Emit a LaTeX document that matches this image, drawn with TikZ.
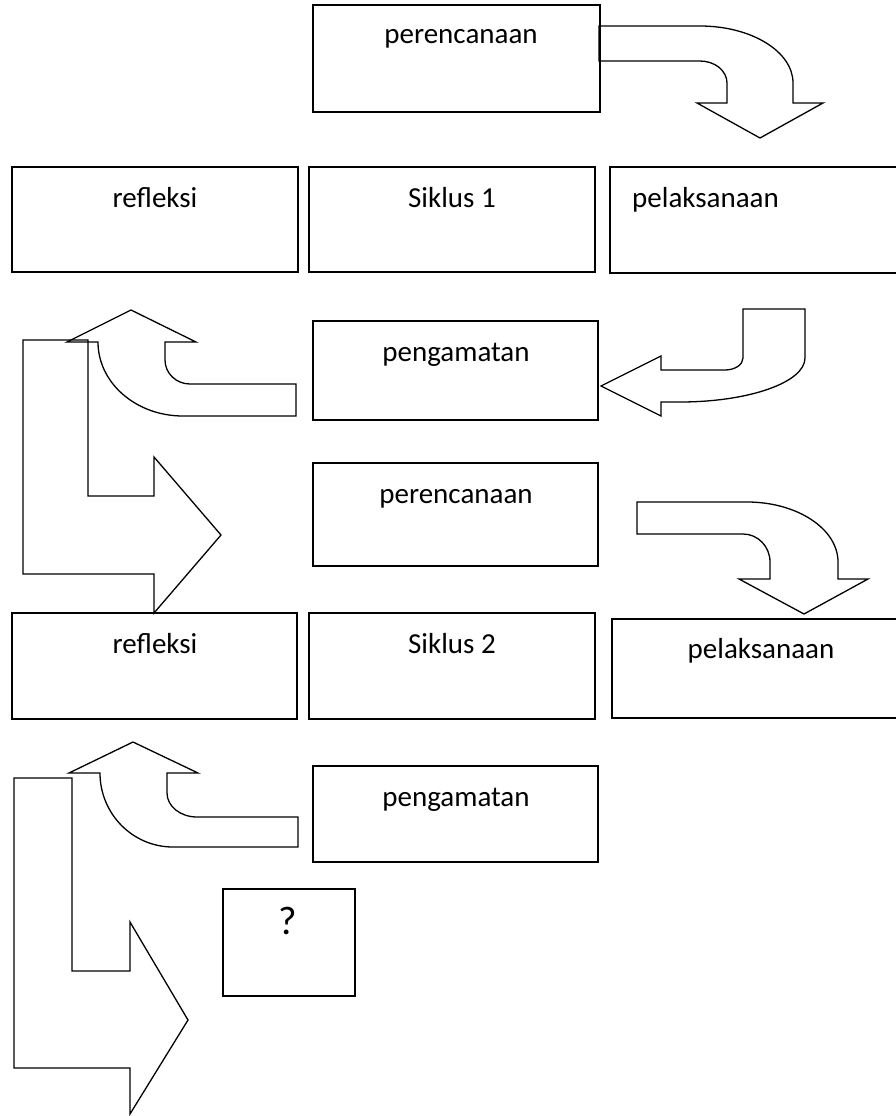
\documentclass[tikz,border=0pt]{standalone}
\usepackage{fontspec}
\setmainfont{Carlito}
\begin{document}
\begin{tikzpicture}[x=1pt,y=-1pt,
  box/.style={draw=black,line width=1.3pt,rectangle,anchor=north west,inner sep=0pt,outer sep=0pt},
  lbl/.style={inner sep=0pt,anchor=base,font=\fontsize{29}{34}\selectfont},
  blockarrow/.style={draw=black,line width=1.3pt,line join=miter}]
\useasboundingbox (0,0) rectangle (896,1116);
% boxes
\node[box,minimum width=287pt,minimum height=107pt] (p1) at (313,5) {};
\node[box,minimum width=286pt,minimum height=105pt] (r1) at (12,167) {};
\node[box,minimum width=286pt,minimum height=105pt] (s1) at (309,167) {};
\node[box,minimum width=290pt,minimum height=106pt] (l1) at (610,167) {};
\node[box,minimum width=285pt,minimum height=99pt] (g1) at (313,321) {};
\node[box,minimum width=285pt,minimum height=103pt] (p2) at (313,463) {};
\node[box,minimum width=285pt,minimum height=106pt] (r2) at (12,613) {};
\node[box,minimum width=286pt,minimum height=106pt] (s2) at (309,613) {};
\node[box,minimum width=288pt,minimum height=99pt] (l2) at (612,619) {};
\node[box,minimum width=285pt,minimum height=96pt] (g2) at (313,766) {};
\node[box,minimum width=132pt,minimum height=107pt] (q) at (223,889) {};
% labels
\node[lbl] (p1t) at (461,44) {perencanaan};
\node[lbl] (r1t) at (155,207) {refleksi};
\node[lbl] (s1t) at (452,207) {Siklus 1};
\node[lbl,anchor=base west] (l1t) at (632,207) {pelaksanaan};
\node[lbl] (g1t) at (456,361) {pengamatan};
\node[lbl] (p2t) at (456,503) {perencanaan};
\node[lbl] (r2t) at (155,653) {refleksi};
\node[lbl] (s2t) at (452,653) {Siklus 2};
\node[lbl] (l2t) at (761,658) {pelaksanaan};
\node[lbl] (g2t) at (456,806) {pengamatan};
\node[lbl,font=\fontsize{40}{44}\selectfont] (qt) at (288,934) {?};
% arrow 1: perencanaan -> pelaksanaan (cycle 1)
\draw[blockarrow] (599,26) -- (700,26) .. controls (751.4,26) and (793,51.5) .. (793,83)
  -- (793,103) -- (823,103) -- (760,138) -- (697,103) -- (727,103) -- (727,83)
  .. controls (727,70.8) and (714.9,61) .. (700,61) -- (599,61) -- cycle;
% arrow 2: pelaksanaan -> pengamatan
\draw[blockarrow] (805,309) -- (805,358) .. controls (805,382.3) and (749,402) .. (680,402)
  -- (661,402) -- (661,416) -- (601,386) -- (661,356) -- (661,370) -- (725,370)
  .. controls (735,370) and (743,364.6) .. (743,358) -- (743,309) -- cycle;
% arrow 3: pengamatan -> refleksi
\draw[blockarrow] (296,384) -- (190,384) .. controls (176.2,384) and (165,373.3) .. (165,360)
  -- (165,342) -- (196,342) -- (131,310) -- (67,342) -- (98,342)
  .. controls (98,382.9) and (136,416) .. (183,416) -- (296,416) -- cycle;
% L arrow 1: refleksi -> perencanaan 2
\draw[blockarrow] (23,340) -- (88,340) -- (88,496) -- (154,496) -- (154,457) -- (221,535)
  -- (154,613) -- (154,574) -- (23,574) -- cycle;
% arrow 4: perencanaan 2 -> pelaksanaan 2
\draw[blockarrow] (637,502) -- (747,502) .. controls (797.3,502) and (838,528.9) .. (838,562)
  -- (838,579) -- (868,579) -- (804,614) -- (739,579) -- (770,579) -- (770,562)
  .. controls (770,546.5) and (757.9,534) .. (743,534) -- (637,534) -- cycle;
% arrow 5: pengamatan 2 -> refleksi 2
\draw[blockarrow] (298,817) -- (197,817) .. controls (180.4,817) and (167,806.3) .. (167,793)
  -- (167,773) -- (198,773) -- (133,742) -- (69,773) -- (100,773)
  .. controls (100,813.9) and (132.7,847) .. (173,847) -- (298,847) -- cycle;
% L arrow 2: refleksi 2 -> ?
\draw[blockarrow] (14,778) -- (72,778) -- (72,971) -- (130,971) -- (130,922) -- (188,1020)
  -- (130,1114) -- (130,1068) -- (14,1068) -- cycle;
\end{tikzpicture}
\end{document}
